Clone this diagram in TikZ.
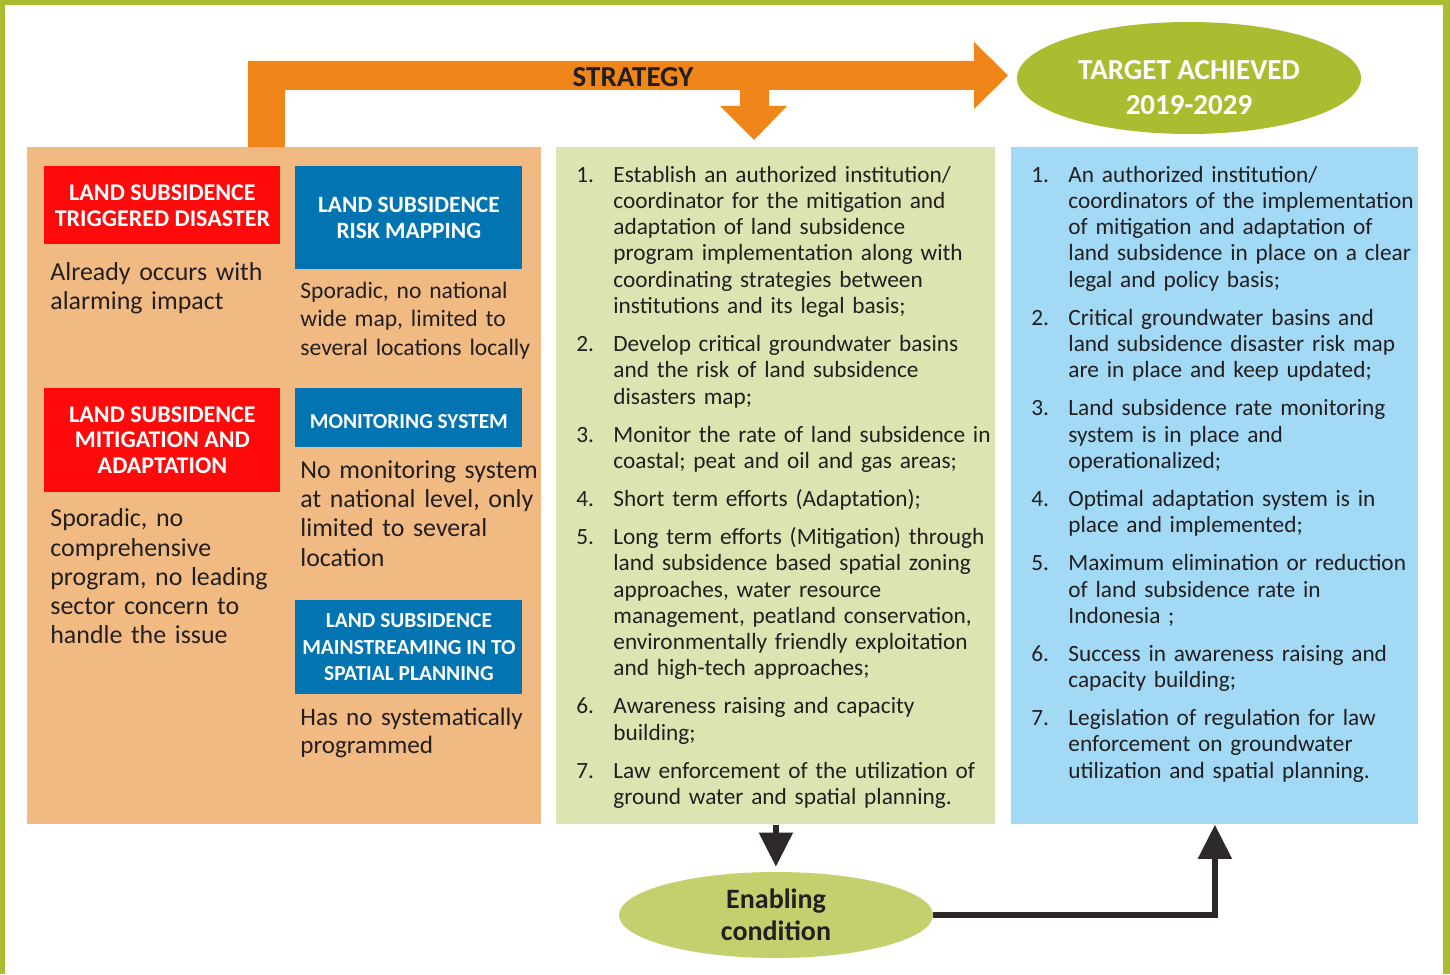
\documentclass[tikz,border=0pt]{standalone}
\usepackage{fontspec}
\setmainfont{Carlito}
\usepackage{xcolor}
\usepackage{tikz}
\usetikzlibrary{arrows.meta,positioning,shapes.geometric,calc}
\definecolor{frameGreen}{RGB}{171,188,48}
\definecolor{arrowOrange}{RGB}{240,134,26}
\definecolor{panelOrange}{RGB}{241,186,131}
\definecolor{panelGreen}{RGB}{221,228,177}
\definecolor{panelBlue}{RGB}{162,217,245}
\definecolor{boxRed}{RGB}{254,10,10}
\definecolor{boxBlue}{RGB}{2,116,178}
\definecolor{enableGreen}{RGB}{196,207,110}
\definecolor{darkArrow}{RGB}{46,41,41}
\definecolor{textDark}{RGB}{35,31,32}

\newcommand{\numitem}[2]{{\let\\\newline\noindent\hangindent=18.5pt\hangafter=1\makebox[18.5pt][l]{#1}#2\par}\vspace{5.85pt}}

\begin{document}
\begin{tikzpicture}[x=0.5pt,y=-0.5pt,
  panel/.style={anchor=north west,inner sep=0pt,minimum height=338.5pt},
  hdr/.style={anchor=north west,inner sep=0pt,align=center,text=white,font=\bfseries\fontsize{12}{12.9}\selectfont,execute at begin node={\rule{0pt}{1em}}},
  hdrsmall/.style={hdr,font=\bfseries\fontsize{10.7}{13.2}\selectfont},
  desc/.style={anchor=base west,inner sep=0pt,text width=135pt,align=left,text=textDark,font=\fontsize{12.95}{14.65}\selectfont},
  listtext/.style={anchor=base west,inner sep=0pt,text width=215pt,align=left,text=textDark,font=\fontsize{11.65}{13.15}\selectfont},
  darkarr/.style={draw=darkArrow,line width=2.6pt,-{Triangle[length=17pt,width=16.5pt]}},
  oval/.style={ellipse,inner sep=0pt,align=center}]
\useasboundingbox (0,0) rectangle (1450,974);
\fill[white] (0,0) rectangle (1450,974);
% frame
\fill[frameGreen] (0,0) rectangle (1450,5);
\fill[frameGreen] (0,0) rectangle (5,974);
\fill[frameGreen] (1443,0) rectangle (1450,974);

% three columns
\node[panel,fill=panelOrange,minimum width=257pt] (issue) at (27,147) {};
\node[panel,fill=panelGreen,minimum width=219.5pt] (strat) at (556,147) {};
\node[panel,fill=panelBlue,minimum width=203.5pt] (goal) at (1011,147) {};

% strategy block arrow
\fill[arrowOrange] (248,147) -- (248,61) -- (974,61) -- (974,42) -- (1008,75.5) -- (974,109) -- (974,90)
  -- (769,90) -- (769,106) -- (787,106) -- (754,140) -- (720,106) -- (740,106) -- (740,90)
  -- (285,90) -- (285,147) -- cycle;
\node[anchor=base,inner sep=0pt,text=textDark,font=\bfseries\fontsize{14.5}{16}\selectfont] (stratlabel) at (633,87) {STRATEGY};

\node[oval,fill=frameGreen,minimum width=172pt,minimum height=56pt] (target) at (1189,78) {};
\node[align=center,inner sep=0pt,text=white,font=\bfseries\fontsize{14.5}{17.5}\selectfont] (targettext) at ([yshift=-5pt]target.center) {TARGET ACHIEVED\\2019-2029};

% issue column
\node[hdr,fill=boxRed,minimum width=118pt,minimum height=39pt] (trig) at (44,166) {LAND SUBSIDENCE\\TRIGGERED DISASTER};
\node[hdr,fill=boxBlue,minimum width=113.5pt,minimum height=51.5pt,font=\bfseries\fontsize{11.7}{13}\selectfont] (risk) at (295,166) {LAND SUBSIDENCE\\RISK MAPPING};
\node[hdr,fill=boxRed,minimum width=118pt,minimum height=51.75pt] (mitig) at (44,388) {LAND SUBSIDENCE\\MITIGATION AND\\ADAPTATION};
\node[hdrsmall,fill=boxBlue,minimum width=113.5pt,minimum height=29.25pt] (monit) at (295,388) {MONITORING SYSTEM};
\node[hdrsmall,fill=boxBlue,minimum width=113.5pt,minimum height=46.7pt] (mainst) at (295,600) {LAND SUBSIDENCE\\MAINSTREAMING IN TO\\SPATIAL PLANNING};

\node[desc] (trigtext) at (50,280) {Already occurs with\\alarming impact};
\node[desc,font=\fontsize{11.8}{14.2}\selectfont] (risktext) at (300,298.3) {Sporadic, no national\\wide map, limited to\\several locations locally};
\node[desc] (mitigtext) at (50,526.7) {Sporadic, no\\comprehensive\\program, no leading\\sector concern to\\handle the issue};
\node[desc] (monittext) at (300,478.3) {No monitoring system\\at national level, only\\limited to several\\location};
\node[desc,font=\fontsize{12.55}{14.3}\selectfont] (mainsttext) at (300,725) {Has no systematically\\programmed};

% strategy list
\node[listtext] (stratlist) at (576,182) {%
\numitem{1.}{Establish an authorized institution/\\coordinator for the mitigation and\\adaptation of land subsidence\\program implementation along with\\coordinating strategies between\\institutions and its legal basis;}%
\numitem{2.}{Develop critical groundwater basins\\and the risk of land subsidence\\disasters map;}%
\numitem{3.}{Monitor the rate of land subsidence in\\coastal; peat and oil and gas areas;}%
\numitem{4.}{Short term efforts (Adaptation);}%
\numitem{5.}{Long term efforts (Mitigation) through\\land subsidence based spatial zoning\\approaches, water resource\\management, peatland conservation,\\environmentally friendly exploitation\\and high-tech approaches;}%
\numitem{6.}{Awareness raising and capacity\\building;}%
\numitem{7.}{Law enforcement of the utilization of\\ground water and spatial planning.}};

% target list
\node[listtext] (goallist) at (1031,182) {%
\numitem{1.}{An authorized institution/\\coordinators of the implementation\\of mitigation and adaptation of\\land subsidence in place on a clear\\legal and policy basis;}%
\numitem{2.}{Critical groundwater basins and\\land subsidence disaster risk map\\are in place and keep updated;}%
\numitem{3.}{Land subsidence rate monitoring\\system is in place and\\operationalized;}%
\numitem{4.}{Optimal adaptation system is in\\place and implemented;}%
\numitem{5.}{Maximum elimination or reduction\\of land subsidence rate in\\Indonesia ;}%
\numitem{6.}{Success in awareness raising and\\capacity building;}%
\numitem{7.}{Legislation of regulation for law\\enforcement on groundwater\\utilization and spatial planning.}};

% enabling condition
\node[oval,fill=enableGreen,minimum width=157pt,minimum height=43pt,text=textDark,font=\bfseries\fontsize{14}{15.9}\selectfont] (enab) at (776,915) {Enabling\\condition};
\draw[darkarr,shorten >=2.5pt] (strat.south) -- (strat.south |- enab.north);
\draw[darkarr] (enab.east) -| (goal.south);
\end{tikzpicture}
\end{document}
